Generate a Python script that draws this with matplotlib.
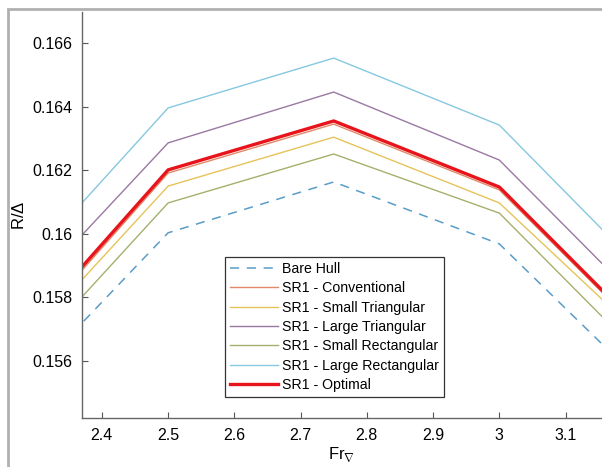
import matplotlib
matplotlib.use("Agg")
import matplotlib.pyplot as plt
from matplotlib.patches import Rectangle
from matplotlib.ticker import FuncFormatter

plt.rcParams['font.family'] = ['Liberation Sans', 'DejaVu Sans']
plt.rcParams['mathtext.fontset'] = 'custom'
plt.rcParams['mathtext.rm'] = 'Liberation Sans'

# Froude numbers (end points sit outside the visible x range)
fr = [2.25, 2.5, 2.75, 3.0, 3.25]

bare_hull = [0.15457, 0.16003, 0.16163, 0.15968, 0.15460]
conventional = [0.15602, 0.16191, 0.16345, 0.16138, 0.15618]
small_tri = [0.15583, 0.16150, 0.16304, 0.16097, 0.15608]
large_tri = [0.15728, 0.16286, 0.16446, 0.16232, 0.15707]
small_rect = [0.15528, 0.16097, 0.16251, 0.16065, 0.15540]
large_rect = [0.15821, 0.16396, 0.16553, 0.16342, 0.15813]
optimal = [0.15614, 0.16201, 0.16355, 0.16147, 0.15624]

labels = ["Bare Hull", "SR1 - Conventional", "SR1 - Small Triangular",
          "SR1 - Large Triangular", "SR1 - Small Rectangular",
          "SR1 - Large Rectangular", "SR1 - Optimal"]
x_ticks = [2.4, 2.5, 2.6, 2.7, 2.8, 2.9, 3.0, 3.1]
y_ticks = [0.156, 0.158, 0.160, 0.162, 0.164, 0.166]

fig = plt.figure(figsize=(6.02, 4.67), dpi=100)
ax = fig.add_axes([82 / 602, 1 - 418 / 467, 1 - 82 / 602, (418 - 12) / 467])

ax.plot(fr, bare_hull, '--', color='#5a9cc8', lw=1.1, dashes=(6, 5), label=labels[0])
ax.plot(fr, conventional, color='#e08a6a', lw=1.0, label=labels[1])
ax.plot(fr, small_tri, color='#e6c35a', lw=1.0, label=labels[2])
ax.plot(fr, large_tri, color='#9a78a4', lw=1.0, label=labels[3])
ax.plot(fr, small_rect, color='#a5b06c', lw=1.0, label=labels[4])
ax.plot(fr, large_rect, color='#85c8e0', lw=1.0, label=labels[5])
ax.plot(fr, optimal, color='#e8141c', lw=2.4, label=labels[6])

ax.set_xlim(2.37, 3.155)
ax.set_ylim(0.1542, 0.16698)
ax.set_xticks(x_ticks)
ax.set_yticks(y_ticks)
ax.xaxis.set_major_formatter(FuncFormatter(lambda v, p: '%g' % round(v, 3)))
ax.yaxis.set_major_formatter(FuncFormatter(lambda v, p: '%g' % round(v, 4)))
ax.tick_params(direction='in', length=4, width=0.8, colors='#555555',
               labelcolor='black', labelsize=11.5, pad=7)
for s in ['top', 'right']:
    ax.spines[s].set_visible(False)
for s in ['left', 'bottom']:
    ax.spines[s].set_color('#666666')
    ax.spines[s].set_linewidth(1.0)

ax.set_xlabel(r'Fr$_\nabla$', fontsize=12, labelpad=2)
ax.set_ylabel(r'R/$\Delta$', fontsize=12, labelpad=4)

leg = ax.legend(loc='lower left', bbox_to_anchor=((225 - 82) / 520, (418 - 397) / 406),
                fontsize=10.2, frameon=True, fancybox=False, handlelength=3.4,
                handletextpad=0.3, labelspacing=0.38, borderpad=0.35,
                borderaxespad=0)
leg.get_frame().set_edgecolor('black')
leg.get_frame().set_linewidth(0.9)

# gray outer frame of the original figure
fig.patches.append(Rectangle((8 / 602, -0.1), 1.2, 1 - 9 / 467 + 0.1,
                             transform=fig.transFigure, fill=False,
                             edgecolor='#b0b0b0', lw=2))

fig.savefig('out.png', dpi=100)
